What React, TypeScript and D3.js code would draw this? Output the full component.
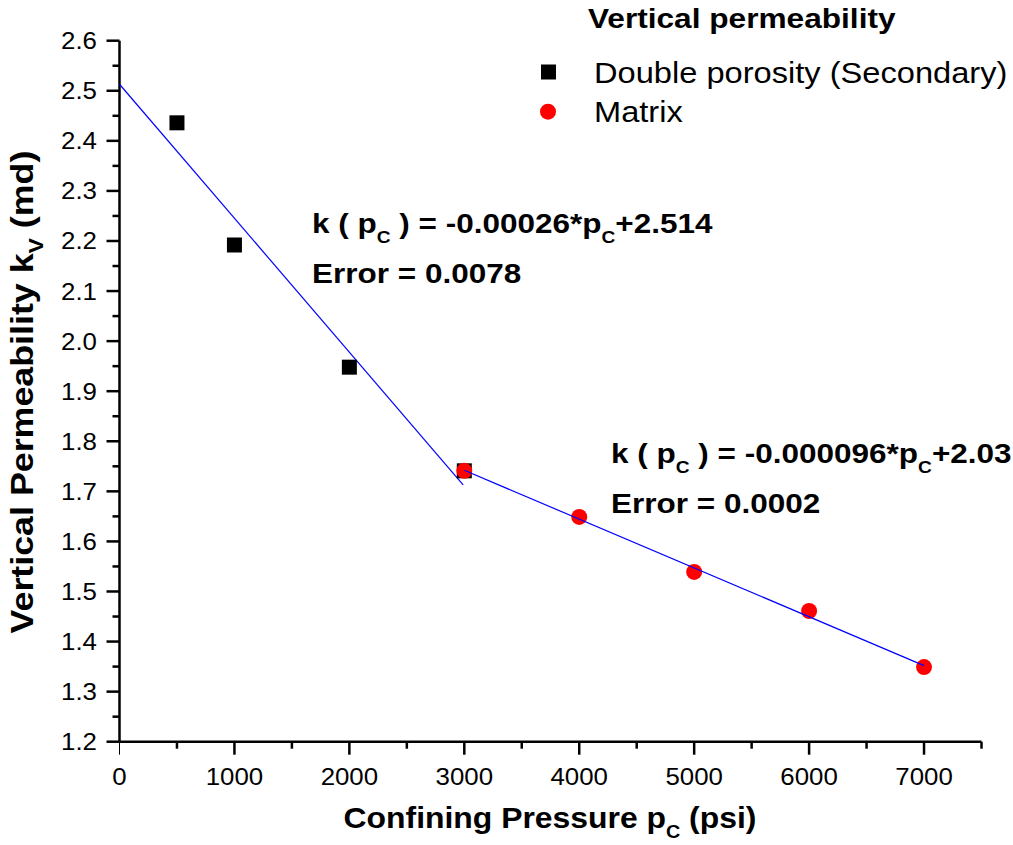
import React from "react";
import * as d3 from "d3";

const squareX = [500, 1000, 2000, 3000];
const squareY = [2.436, 2.192, 1.948, 1.741];
const circleX = [3000, 4000, 5000, 6000, 7000];
const circleY = [1.741, 1.649, 1.539, 1.461, 1.349];
const fit1X = [0, 2990];
const fit1Y = [2.513, 1.713];
const fit2X = [3000, 7000];
const fit2Y = [1.742, 1.352];
const xTicks = [0, 1000, 2000, 3000, 4000, 5000, 6000, 7000];
const yTicks = [1.2, 1.3, 1.4, 1.5, 1.6, 1.7, 1.8, 1.9, 2.0, 2.1, 2.2, 2.3, 2.4, 2.5, 2.6];

const FONT = "'Liberation Sans', Arial, sans-serif";

export default function App() {
  const W = 1013, H = 845;
  const x = d3.scaleLinear().domain([0, 7500]).range([119.5, 981.5]);
  const y = d3.scaleLinear().domain([1.2, 2.6]).range([741.7, 40.7]);
  const line = d3.line<[number, number]>().x(d => x(d[0])).y(d => y(d[1]));
  const xMinor = d3.range(500, 7600, 1000);
  const yMinor = d3.range(1.25, 2.6, 0.1);
  const st = (tx: number, ty: number, s: number) => `translate(${tx},${ty}) scale(${s},1)`;
  const Sub = ({ t, fs, d }: any) => (
    <>
      <tspan fontSize={fs} dy={d}>{t}</tspan>
    </>
  );
  const Eq = ({ tx, ty, coef, icpt, err }: any) => (
    <g fontSize={28} fontWeight="bold" fontFamily={FONT}>
      <text transform={st(tx, ty, 1.125)}>
        k ( p<tspan fontSize={17} dy={10}>C</tspan><tspan dy={-10}> ) = {coef}*p</tspan>
        <tspan fontSize={17} dy={10}>C</tspan><tspan dy={-10}>+{icpt}</tspan>
      </text>
      <text transform={st(tx, ty + 50.5, 1.125)}>Error = {err}</text>
    </g>
  );
  return (
    <svg width={W} height={H} style={{ position: "absolute", left: 0, top: 0, background: "#fff" }}>
      <rect width={W} height={H} fill="#fff" />
      {/* axes */}
      <line x1={x(0)} x2={x(7500)} y1={y(1.2)} y2={y(1.2)} stroke="#000" strokeWidth={2.5} />
      <line x1={x(0)} x2={x(0)} y1={y(1.2)} y2={y(2.6)} stroke="#000" strokeWidth={2.5} />
      {xTicks.map(t => (
        <g key={"xt" + t}>
          <line x1={x(t)} x2={x(t)} y1={y(1.2)} y2={y(1.2) + 13} stroke="#000" strokeWidth={t === 0 ? 1 : 2.5} />
          <text transform={st(x(t), 785, 1.1)} textAnchor="middle" fontSize={23.5} fontFamily={FONT}>{t}</text>
        </g>
      ))}
      {xMinor.map(t => (
        <line key={"xm" + t} x1={x(t)} x2={x(t)} y1={y(1.2)} y2={y(1.2) + 7} stroke="#000" strokeWidth={2.5} />
      ))}
      {yTicks.map(t => (
        <g key={"yt" + t}>
          <line x1={x(0) - 13} x2={x(0)} y1={y(t)} y2={y(t)} stroke="#000" strokeWidth={2.5} />
          <text transform={st(97, y(t) + 8.5, 1.1)} textAnchor="end" fontSize={23.5} fontFamily={FONT}>{t.toFixed(1)}</text>
        </g>
      ))}
      {yMinor.map(t => (
        <line key={"ym" + t} x1={x(0) - 7} x2={x(0)} y1={y(t)} y2={y(t)} stroke="#000" strokeWidth={2.5} />
      ))}
      {/* axis titles */}
      <text transform={st(550, 828, 1.1)} textAnchor="middle" fontSize={29} fontWeight="bold" fontFamily={FONT}>
        Confining Pressure p<Sub t="C" fs={18} d={10} /><tspan dy={-10}> (psi)</tspan>
      </text>
      <text transform={`translate(33,392) rotate(-90) scale(1.155,1)`} textAnchor="middle" fontSize={31} fontWeight="bold" fontFamily={FONT}>
        Vertical Permeability k<Sub t="V" fs={20} d={10} /><tspan dy={-10}> (md)</tspan>
      </text>
      {/* fit lines */}
      <path d={line(fit1X.map((v, i) => [v, fit1Y[i]]) as any) || ""} fill="none" stroke="#0000ff" strokeWidth={1.2} />
      {/* points */}
      {squareX.map((v, i) => (
        <rect key={"s" + i} x={x(v) - 7.5} y={y(squareY[i]) - 7.5} width={15} height={15} fill="#000" />
      ))}
      {circleX.map((v, i) => (
        <circle key={"c" + i} cx={x(v)} cy={y(circleY[i])} r={8} fill="#ff0000" />
      ))}
      <path d={line(fit2X.map((v, i) => [v, fit2Y[i]]) as any) || ""} fill="none" stroke="#0000ff" strokeWidth={1.2} />
      {/* annotations */}
      <Eq tx={312} ty={232.5} coef="-0.00026" icpt="2.514" err="0.0078" />
      <Eq tx={611} ty={462.7} coef="-0.000096" icpt="2.03" err="0.0002" />
      {/* legend */}
      <text transform={st(588, 28.3, 1.15)} fontSize={27.5} fontWeight="bold" fontFamily={FONT}>Vertical permeability</text>
      <rect x={541} y={64.5} width={15} height={15} fill="#000" />
      <text transform={st(594, 83.3, 1.125)} fontSize={29} fontFamily={FONT}>Double porosity (Secondary)</text>
      <circle cx={548} cy={111.7} r={8} fill="#ff0000" />
      <text transform={st(594, 121.7, 1.125)} fontSize={29} fontFamily={FONT}>Matrix</text>
    </svg>
  );
}
